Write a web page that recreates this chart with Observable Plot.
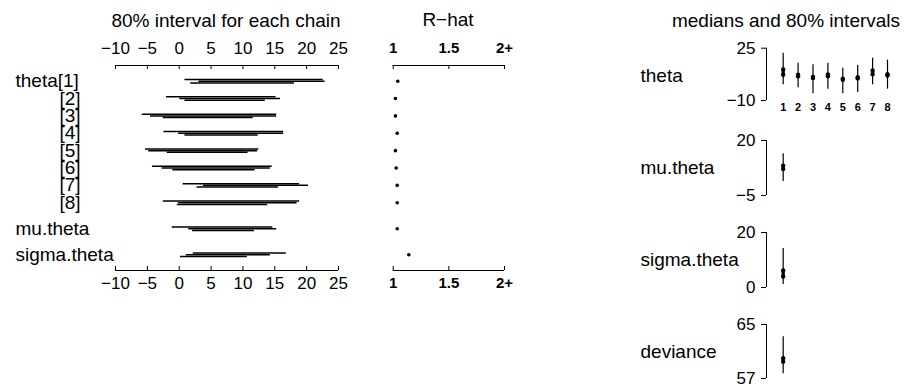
<!DOCTYPE html>
<html><head><meta charset="utf-8">
<script src="https://cdn.jsdelivr.net/npm/d3@7"></script>
<script src="https://cdn.jsdelivr.net/npm/@observablehq/plot@0.6"></script>
<style>
body{margin:0;background:#fff;font-family:"Liberation Sans",Arial,Helvetica,sans-serif;}
#chart{position:relative;width:904px;height:387px;overflow:hidden;background:#fff;}
#chart svg{position:absolute;left:0;top:0;}
.title{position:absolute;font-size:19px;white-space:nowrap;transform:translate(-50%,-50%);color:#000;}
</style></head><body>
<div id="chart">
<div class="title" style="left:226px;top:21px">80% interval for each chain</div>
<div class="title" style="left:448px;top:20px">R−hat</div>
<div class="title" style="left:786px;top:21px">medians and 80% intervals</div>
</div>
<script>
// ---- Data ----
const rowLabels = ["theta[1]","[2]","[3]","[4]","[5]","[6]","[7]","[8]","mu.theta","sigma.theta"];
const rowPos = [1,2,3,4,5,6,7,8,9.5,11];
// 80% interval for each of three chains
const chain1Lo = [0.9,-2.0,-5.8,-2.4,-5.3,-4.2,0.6,-2.5,-1.1,2.2];
const chain1Hi = [22.6,15.2,15.3,16.4,12.5,14.6,18.9,18.9,14.7,16.8];
const chain2Lo = [3.1,0.1,-4.5,-0.1,-4.8,-2.7,3.8,-0.1,1.5,1.1];
const chain2Hi = [22.9,15.9,15.3,16.4,12.3,14.3,20.3,18.5,15.3,14.3];
const chain3Lo = [1.8,0.9,-2.5,0.9,-1.9,-1.0,2.8,-0.3,2.1,0.2];
const chain3Hi = [18.1,13.5,11.6,12.4,10.8,11.9,15.6,13.9,11.8,10.7];
const rhat = [1.041,1.02,1.02,1.036,1.02,1.027,1.036,1.036,1.036,1.14];

const intervalTicks = [-10,-5,0,5,10,15,20,25];
const intervalTickLabels = ["−10","−5","0","5","10","15","20","25"];
const rhatTicks = [1,1.5,2];
const rhatTickLabels = ["1","1.5","2+"];

const thetaIdx = [1,2,3,4,5,6,7,8];
const thetaLo = [0.5,-1.5,-5.5,-2.4,-5.5,-4.6,0.5,-2.4];
const thetaHi = [21.7,15.0,13.9,15.0,11.6,13.4,18.3,17.0];
const thetaMedLo = [7.2,6.2,5.0,6.2,3.9,4.8,7.6,6.7];
const thetaMedHi = [10.7,7.2,5.8,7.4,4.6,5.6,10.1,7.6];

const muLo = [1.4], muHi = [14.0], muMedLo = [7.0], muMedHi = [8.6];
const sigmaLo = [1.1], sigmaHi = [14.2], sigmaMedLo = [4.0], sigmaMedHi = [6.2];
const devLo = [57.7], devHi = [63.2], devMedLo = [59.5], devMedHi = [60.0];

const panelNames = ["theta","mu.theta","sigma.theta","deviance"];
const panelTicks = [[-10,25],[-5,20],[0,20],[57,65]];
const panelTickLabels = [["−10","25"],["−5","20"],["0","20"],["57","65"]];

// ---- Layout ----
const W = 904, H = 387;
const FONT = '"Liberation Sans", Arial, Helvetica, sans-serif';
const rowDomain = [0.096, 11.904];
const chains = [[chain1Lo,chain1Hi],[chain2Lo,chain2Hi],[chain3Lo,chain3Hi]];
const chartEl = document.getElementById("chart");
const baseStyle = {background:"transparent", overflow:"visible", fontFamily: FONT, color:"black"};

function axisMarks(ticks, labels, xr, yTop, yBot, fontOpts) {
  return [
    Plot.ruleY([yTop, yBot], {y: d => d, x1: xr[0], x2: xr[1], stroke: "black", strokeWidth: 1}),
    Plot.ruleX(ticks, {x: d => d, y1: yTop, y2: yTop, insetBottom: -4, stroke: "black"}),
    Plot.ruleX(ticks, {x: d => d, y1: yBot, y2: yBot, insetTop: -4, stroke: "black"}),
    Plot.text(ticks, {x: d => d, y: yTop, dy: -17, text: (d, i) => labels[i], ...fontOpts}),
    Plot.text(ticks, {x: d => d, y: yBot, dy: 13, text: (d, i) => labels[i], ...fontOpts})
  ];
}

// Left panel: chain intervals
const leftPlot = Plot.plot({
  width: W, height: H, marginLeft: 115, marginRight: W - 338, marginTop: 65, marginBottom: H - 270,
  x: {domain: [-10, 25], axis: null},
  y: {domain: rowDomain, reverse: true, axis: null},
  style: baseStyle,
  marks: [
    ...axisMarks(intervalTicks, intervalTickLabels, [-10, 25], rowDomain[0], rowDomain[1], {fontSize: 17}),
    ...chains.map(([lo, hi], k) => Plot.ruleY(rowPos, {
      y: d => d, x1: (d, i) => lo[i], x2: (d, i) => hi[i], dy: (k - 1) * 1.7, stroke: "black", strokeWidth: 1.5
    })),
    Plot.text(rowPos, {y: d => d, text: (d, i) => rowLabels[i], filter: (d, i) => !rowLabels[i].startsWith("["),
      frameAnchor: "left", dx: -100, textAnchor: "start", fontSize: 19}),
    Plot.text(rowPos, {y: d => d, text: (d, i) => rowLabels[i], filter: (d, i) => rowLabels[i].startsWith("["),
      frameAnchor: "left", dx: -35, textAnchor: "end", fontSize: 19})
  ]
});
chartEl.appendChild(leftPlot);

// R-hat panel
const rhatPlot = Plot.plot({
  width: W, height: H, marginLeft: 392.7, marginRight: W - 504, marginTop: 65, marginBottom: H - 270,
  x: {domain: [1, 2], axis: null},
  y: {domain: rowDomain, reverse: true, axis: null},
  style: baseStyle,
  marks: [
    ...axisMarks(rhatTicks, rhatTickLabels, [1, 2], rowDomain[0], rowDomain[1], {fontSize: 15, fontWeight: "bold"}),
    Plot.dot(rowPos, {x: (d, i) => rhat[i], y: d => d, r: 1.8, fill: "black", stroke: null})
  ]
});
chartEl.appendChild(rhatPlot);

// Right panels
const rpAxisX = -0.12;
const panels = [
  {name: panelNames[0], idx: thetaIdx, lo: thetaLo, hi: thetaHi, mlo: thetaMedLo, mhi: thetaMedHi, top: 47.7, bot: 100, labels: true},
  {name: panelNames[1], idx: [1], lo: muLo, hi: muHi, mlo: muMedLo, mhi: muMedHi, top: 140, bot: 195},
  {name: panelNames[2], idx: [1], lo: sigmaLo, hi: sigmaHi, mlo: sigmaMedLo, mhi: sigmaMedHi, top: 232, bot: 287},
  {name: panelNames[3], idx: [1], lo: devLo, hi: devHi, mlo: devMedLo, mhi: devMedHi, top: 324, bot: 378}
];
panels.forEach((p, j) => {
  const ticks = panelTicks[j], tl = panelTickLabels[j];
  const plot = Plot.plot({
    width: W, height: H, marginLeft: 766, marginRight: W - 887, marginTop: p.top, marginBottom: H - p.bot,
    x: {domain: [rpAxisX, 8], axis: null},
    y: {domain: ticks, axis: null},
    style: {...baseStyle, fontSize: "17px"},
    marks: [
      Plot.ruleX([rpAxisX], {x: d => d, y1: ticks[0], y2: ticks[1], stroke: "black"}),
      Plot.axisY(ticks, {anchor: "left", tickSize: 5, tickPadding: 6, tickFormat: (d, i) => tl[ticks.indexOf(d)], fontSize: 17}),
      Plot.ruleX(p.idx, {x: d => d, y1: (d, i) => p.lo[i], y2: (d, i) => p.hi[i], stroke: "black", strokeWidth: 1.2}),
      Plot.ruleX(p.idx, {x: d => d, y1: (d, i) => p.mlo[i], y2: (d, i) => p.mhi[i], stroke: "black", strokeWidth: 3.2}),
      Plot.dot(p.idx, {x: d => d, y: (d, i) => p.mlo[i], r: 2.2, fill: "black", stroke: null}),
      Plot.dot(p.idx, {x: d => d, y: (d, i) => p.mhi[i], r: 2.2, fill: "black", stroke: null}),
      ...(p.labels ? [Plot.text(p.idx, {x: d => d, y: ticks[0], dy: 7, text: d => String(d), fontWeight: "bold", fontSize: 11})] : []),
      Plot.text([p.name], {text: d => d, frameAnchor: "left", dx: 640 - 766, dy: j === 0 ? 2 : 0, textAnchor: "start", fontSize: 19})
    ]
  });
  chartEl.appendChild(plot);
});
</script>
</body></html>
